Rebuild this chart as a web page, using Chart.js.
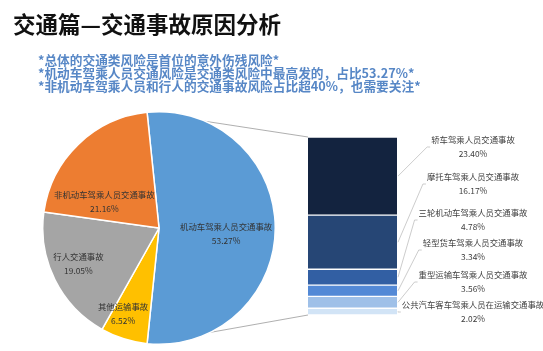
<!DOCTYPE html>
<html><head><meta charset="utf-8">
<script src="https://cdn.jsdelivr.net/npm/chart.js@4"></script>
<style>
html,body{margin:0;padding:0;background:#fff;width:543px;height:351px;overflow:hidden;}
#wrap{position:relative;width:543px;height:351px;}
#title{position:absolute;left:13px;top:11px;font:bold 22.5px/24px "Noto Sans CJK SC";color:#111;white-space:nowrap;}
#sub{position:absolute;left:38px;top:53px;font:bold 12.7px/13.2px "Noto Sans CJK SC";color:#5787c6;white-space:nowrap;}
#barCanvas{position:absolute;left:0;top:0;}
#pieCanvas{position:absolute;left:42px;top:111px;}
</style></head><body>
<div id="wrap">
<canvas id="barCanvas" width="543" height="351"></canvas>
<canvas id="pieCanvas" width="234" height="234"></canvas>
<div id="title"></div>
<div id="sub"></div>
</div>
<script>
// ---- data ----
const titleText = '交通篇—交通事故原因分析';
const notes = [
  '*总体的交通类风险是首位的意外伤残风险*',
  '*机动车驾乘人员交通风险是交通类风险中最高发的，占比53.27%*',
  '*非机动车驾乘人员和行人的交通事故风险占比超40%，也需要关注*'
];
const pieCategories = ['机动车驾乘人员交通事故', '其他运输事故', '行人交通事故', '非机动车驾乘人员交通事故'];
const pieValues = [53.27, 6.52, 19.05, 21.16];
const barCategories = ['轿车驾乘人员交通事故', '摩托车驾乘人员交通事故', '三轮机动车驾乘人员交通事故', '轻型货车驾乘人员交通事故', '重型运输车驾乘人员交通事故', '公共汽车客车驾乘人员在运输交通事故'];
const barValues = [23.40, 16.17, 4.78, 3.34, 3.56, 2.02];

// ---- styles ----
const pieColors = ['#5b9bd5', '#ffc000', '#a5a5a5', '#ed7d31'];
const barColors = ['#13233f', '#264675', '#325fa3', '#5389d6', '#9fc0e8', '#d2e4f6'];
// pie label placement: [angle from 12 o'clock (deg, clockwise), radius fraction]
const pieLabelPlace = [[95, 0.58], [202.7, 0.80], [245.8, 0.76], [295.3, 0.52]];
// bar label first-line offsets from plot top (px)
const barLabelOffsets = [3, 40, 76, 106, 138, 168];
const PIE_LEFT = 42, PIE_TOP = 111;
const FONT = '"Noto Sans CJK SC", "Noto Sans", sans-serif';

document.getElementById('title').textContent = titleText;
document.getElementById('sub').innerHTML = notes.map(s => s.replace(/&/g,'&amp;')).join('<br>');

const fmt = v => v.toFixed(2) + '%';

const pieLabelPlugin = {
  id: 'pieLabels',
  afterDatasetsDraw(chart) {
    const ctx = chart.ctx;
    const arcs = chart.getDatasetMeta(0).data;
    ctx.save();
    ctx.font = '8.4px ' + FONT;
    ctx.fillStyle = '#333';
    ctx.textAlign = 'center';
    ctx.textBaseline = 'middle';
    arcs.forEach((a, i) => {
      const [ang, f] = pieLabelPlace[i];
      const t = ang * Math.PI / 180;
      const cx = a.x + Math.sin(t) * a.outerRadius * f;
      const cy = a.y - Math.cos(t) * a.outerRadius * f;
      ctx.fillText(pieCategories[i], cx, cy - 7);
      ctx.fillText(fmt(pieValues[i]), cx, cy + 7);
    });
    ctx.restore();
  }
};

const pieChart = new Chart(document.getElementById('pieCanvas'), {
  type: 'pie',
  data: {
    labels: pieCategories,
    datasets: [{
      data: pieValues,
      backgroundColor: pieColors,
      borderColor: '#fff',
      borderWidth: 1.5,
      hoverOffset: 0,
      offset: 0
    }]
  },
  options: {
    responsive: false,
    animation: false,
    rotation: 90 - pieValues[0] * 3.6 / 2,
    layout: { padding: 0 },
    plugins: { legend: { display: false }, tooltip: { enabled: false } },
    events: []
  },
  plugins: [pieLabelPlugin]
});

const barTotal = barValues.reduce((s, v) => s + v, 0);
const n = barValues.length;

const barPlugin = {
  id: 'barExtras',
  beforeDatasetsDraw(chart) {
    // connector lines from the pie slice to the bar
    const ctx = chart.ctx;
    const ca = chart.chartArea;
    const arc = pieChart.getDatasetMeta(0).data[0];
    const r = arc.outerRadius;
    const p1 = [PIE_LEFT + arc.x + r * Math.cos(arc.startAngle), PIE_TOP + arc.y + r * Math.sin(arc.startAngle)];
    const p2 = [PIE_LEFT + arc.x + r * Math.cos(arc.endAngle), PIE_TOP + arc.y + r * Math.sin(arc.endAngle)];
    ctx.save();
    ctx.strokeStyle = '#a6a6a6';
    ctx.lineWidth = 0.9;
    ctx.beginPath();
    ctx.moveTo(p1[0], p1[1]); ctx.lineTo(ca.left, ca.top);
    ctx.moveTo(p2[0], p2[1]); ctx.lineTo(ca.left, ca.bottom);
    ctx.stroke();
    ctx.restore();
  },
  afterDatasetsDraw(chart) {
    const ctx = chart.ctx;
    const ca = chart.chartArea;
    ctx.save();
    ctx.font = '8.4px ' + FONT;
    ctx.textAlign = 'center';
    ctx.textBaseline = 'middle';
    for (let i = 0; i < n; i++) {
      const el = chart.getDatasetMeta(n - 1 - i).data[0];
      const mid = (el.y + el.base) / 2;
      const cx = ca.right + 76;
      const y1 = ca.top + barLabelOffsets[i];
      const y2 = y1 + 14;
      const w = ctx.measureText(barCategories[i]).width;
      const left = cx - w / 2;
      const cy = (y1 + y2) / 2;
      ctx.strokeStyle = '#bfbfbf';
      ctx.lineWidth = 0.8;
      ctx.beginPath();
      ctx.moveTo(ca.right + 1, mid);
      ctx.lineTo(left - 4, cy);
      ctx.lineTo(left - 1, cy);
      ctx.stroke();
      ctx.fillStyle = '#404040';
      ctx.fillText(barCategories[i], cx, y1);
      ctx.fillText(fmt(barValues[i]), cx, y2);
    }
    ctx.restore();
  }
};

const barDatasets = [];
for (let i = n - 1; i >= 0; i--) {
  barDatasets.push({
    label: barCategories[i],
    data: [barValues[i]],
    backgroundColor: barColors[i],
    borderColor: '#ffffff',
    borderWidth: { top: 1, bottom: 1, left: 0, right: 0 },
    borderSkipped: false,
    categoryPercentage: 1,
    barPercentage: 1
  });
}

new Chart(document.getElementById('barCanvas'), {
  type: 'bar',
  data: { labels: ['机动车驾乘人员交通事故'], datasets: barDatasets },
  options: {
    responsive: false,
    animation: false,
    layout: { padding: { left: 308, right: 146, top: 137, bottom: 36 } },
    scales: {
      x: { stacked: true, display: false },
      y: { stacked: true, display: false, min: 0, max: barTotal }
    },
    plugins: { legend: { display: false }, tooltip: { enabled: false } },
    events: []
  },
  plugins: [barPlugin]
});
</script>
</body></html>
